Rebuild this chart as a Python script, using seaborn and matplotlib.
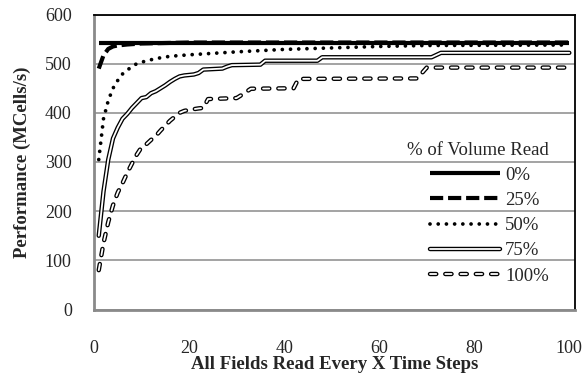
import matplotlib
matplotlib.use("Agg")
import matplotlib.pyplot as plt
import seaborn as sns
import pandas as pd
from matplotlib.lines import Line2D
from matplotlib.legend_handler import HandlerTuple

# ---- data ----
labels = ["0%", "25%", "50%", "75%", "100%"]

x_0 = [1, 100]
y_0 = [543, 543]

x_25 = [1, 2, 3, 4, 5, 7, 10, 15, 20, 100]
y_25 = [490, 517, 530, 535, 537, 539, 541, 542, 543, 543]

x_50 = [1, 2, 3, 4, 5, 6, 7, 8, 9, 10, 12, 14, 16, 20, 25, 30, 40, 50, 60, 70, 100]
y_50 = [305, 388, 425, 450, 466, 479, 487, 494, 500, 503, 508, 512, 515, 518, 521, 524, 529, 532, 535, 537, 538]

x_75 = [1, 2, 3, 4, 5, 6, 7, 8, 9, 10, 11, 12, 13, 14, 15, 16, 17, 18, 19, 20, 21, 22, 23,
        27, 28, 29, 35, 36, 47, 48, 71, 73, 100]
y_75 = [150, 240, 305, 348, 370, 388, 398, 410, 420, 430, 432, 440, 444, 450, 456, 463, 469, 474, 476, 477, 478, 481, 488,
        490, 494, 497, 498, 506, 506, 513, 513, 522, 522]

x_100 = [1, 2, 3, 4, 5, 6, 7, 8, 9, 10, 11, 12, 13, 14, 15, 16, 17, 18, 19, 20, 22, 23, 24,
         30, 31, 33, 42, 43, 68, 70, 100]
y_100 = [80, 135, 178, 212, 238, 257, 278, 297, 315, 330, 336, 345, 353, 364, 374, 384, 392, 400, 404, 406, 409, 410, 428,
         430, 436, 449, 450, 469, 470, 492, 492]

yticks = [0, 100, 200, 300, 400, 500, 600]
xticks = [0, 20, 40, 60, 80, 100]

# ---- style ----
sns.set_style("white")
plt.rcParams["font.family"] = ["Liberation Serif", "DejaVu Serif"]
plt.rcParams["lines.scale_dashes"] = False

fig = plt.figure(figsize=(5.84, 3.75), dpi=100)
ax = fig.add_axes([94 / 584, 1 - 309.5 / 375, (575 - 94) / 584, (309.5 - 14.5) / 375])

def df(x, y):
    return pd.DataFrame({"x": x, "y": y})

# 0% solid thick
sns.lineplot(data=df(x_0, y_0), x="x", y="y", ax=ax, color="black", lw=3.0,
             solid_capstyle="butt", legend=False, zorder=6)
# 25% thick dashed
sns.lineplot(data=df(x_25, y_25), x="x", y="y", ax=ax, color="black", lw=3.0,
             linestyle=(0, (9.5, 3.5)), dash_capstyle="butt", legend=False, zorder=5)
# 50% round dots
sns.lineplot(data=df(x_50, y_50), x="x", y="y", ax=ax, color="black", lw=2.7,
             linestyle=(0, (0.01, 5.9)), dash_capstyle="round", legend=False, zorder=4)
# 75% double line
sns.lineplot(data=df(x_75, y_75), x="x", y="y", ax=ax, color="black", lw=3.2,
             legend=False, zorder=3)
sns.lineplot(data=df(x_75, y_75), x="x", y="y", ax=ax, color="white", lw=1.3,
             legend=False, zorder=3.1)
# 100% hollow dashes
hd = (0, (4.5, 6.5))
sns.lineplot(data=df(x_100, y_100), x="x", y="y", ax=ax, color="black", lw=3.2,
             linestyle=hd, dash_capstyle="round", legend=False, zorder=2)
sns.lineplot(data=df(x_100, y_100), x="x", y="y", ax=ax, color="white", lw=1.3,
             linestyle=hd, dash_capstyle="round", legend=False, zorder=2.1)

ax.set_xlim(0, 101.2)
ax.set_ylim(0, 600)
ax.set_xticks(xticks)
ax.set_yticks(yticks)
ax.tick_params(axis="x", length=0, pad=22, labelsize=13)
ax.tick_params(axis="y", length=0, pad=16, labelsize=13)
ax.yaxis.grid(True, color="#8a8a8a", lw=1.1)
ax.xaxis.grid(False)
ax.set_axisbelow(True)

for s in ["left", "bottom"]:
    ax.spines[s].set_color("#8a8a8a")
    ax.spines[s].set_linewidth(2.0)
for s in ["top", "right"]:
    ax.spines[s].set_color("black")
    ax.spines[s].set_linewidth(1.3)

ax.set_xlabel("All Fields Read Every X Time Steps", fontsize=13.5, fontweight="bold", labelpad=-1)
ax.set_ylabel("Performance (MCells/s)", fontsize=13.5, fontweight="bold", labelpad=10)

# legend
h0 = Line2D([], [], color="black", lw=3.0, solid_capstyle="butt")
h25 = Line2D([], [], color="black", lw=3.0, linestyle=(0, (9.5, 3.5)), dash_capstyle="butt")
h50 = Line2D([], [], color="black", lw=2.7, linestyle=(0, (0.01, 5.9)), dash_capstyle="round")
h75 = (Line2D([], [], color="black", lw=3.2), Line2D([], [], color="white", lw=1.3))
h100 = (Line2D([], [], color="black", lw=3.2, linestyle=hd, dash_capstyle="round"),
        Line2D([], [], color="white", lw=1.3, linestyle=hd, dash_capstyle="round"))
leg = ax.legend([h0, h25, h50, h75, h100], labels, title="% of Volume Read",
                handler_map={tuple: HandlerTuple(ndivide=1)},
                loc="lower right", bbox_to_anchor=(0.973, 0.04), frameon=False,
                fontsize=13.5, title_fontsize=13.5, handlelength=3.75, handletextpad=0.27,
                labelspacing=0.43, alignment="right", borderpad=0.2)
leg.set_zorder(10)

fig.savefig("out.png", dpi=100)
